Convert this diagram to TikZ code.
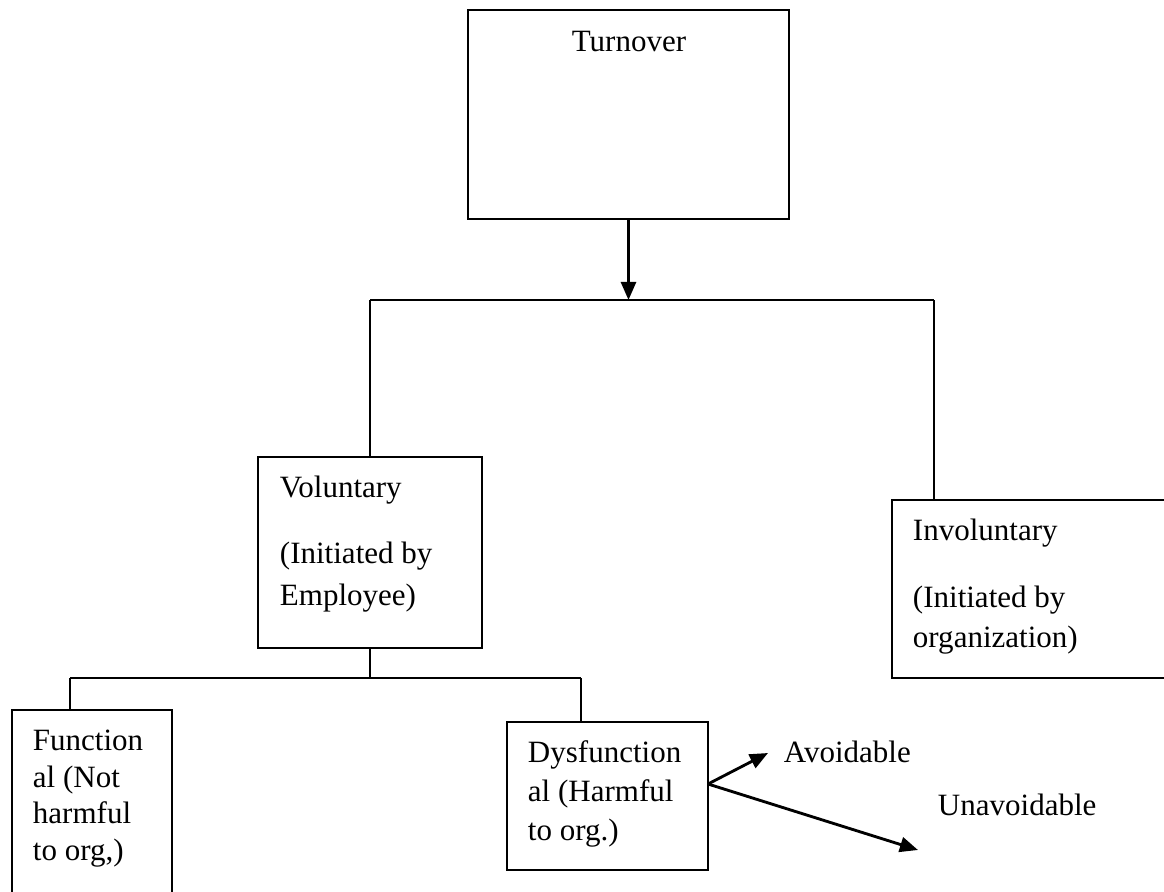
\documentclass[tikz,border=0pt]{standalone}
\usepackage{fontspec}
\setmainfont{Liberation Serif}
\usetikzlibrary{arrows.meta,fit}
\begin{document}
\begin{tikzpicture}[x=0.387pt,y=-0.387pt,
  line width=0.75pt,
  box/.style={draw,inner sep=0pt,line width=0.75pt},
  lbl/.style={anchor=base west,inner sep=0pt,font=\fontsize{12}{14}\selectfont},
  arr/.style={line width=1.1pt,-{Triangle[length=7pt,width=5.8pt]}}]
\useasboundingbox (0,0) rectangle (1164,892);
\fill[white] (0,0) rectangle (1164,892);
% boxes
\coordinate (t1) at (468,10);   \coordinate (t2) at (789,219);
\node[box,fit=(t1)(t2)] (turn) {};
\coordinate (v1) at (258,457);  \coordinate (v2) at (482,648);
\node[box,fit=(v1)(v2)] (vol) {};
\coordinate (i1) at (892,500);  \coordinate (i2) at (1200,678);
\node[box,fit=(i1)(i2)] (invol) {};
\coordinate (f1) at (12,710);   \coordinate (f2) at (172,930);
\node[box,fit=(f1)(f2)] (func) {};
\coordinate (d1) at (507,722);  \coordinate (d2) at (708,870);
\node[box,fit=(d1)(d2)] (dys) {};
% texts
\node[lbl,anchor=base] (tturn) at (629,51) {Turnover};
\node[lbl] (tv1) at (279,497) {Voluntary};
\node[lbl] (tv2) at (279,563) {(Initiated by};
\node[lbl] (tv3) at (279,605) {Employee)};
\node[lbl] (ti1) at (912,540) {Involuntary};
\node[lbl] (ti2) at (912,607) {(Initiated by};
\node[lbl] (ti3) at (912,647) {organization)};
\node[lbl] (tf1) at (32,750) {Function};
\node[lbl] (tf2) at (32,787) {al (Not};
\node[lbl] (tf3) at (32,823) {harmful};
\node[lbl] (tf4) at (32,860) {to org,)};
\node[lbl] (td1) at (527,762) {Dysfunction};
\node[lbl] (td2) at (527,801) {al (Harmful};
\node[lbl] (td3) at (527,840) {to org.)};
\node[lbl] (tav) at (783,762) {Avoidable};
\node[lbl] (tun) at (937,815) {Unavoidable};
% top connectors
\coordinate (hj) at (turn.south |- 0,300);
\coordinate (hl) at (vol.north |- hj);
\coordinate (hr) at (934,300);
\coordinate (ir) at (934,500);
\draw[arr] (turn.south) -- (hj);
\draw (hl) -- (hr);
\draw (hl) -- (vol.north);
\draw (hr) -- (ir);
% bottom connectors
\coordinate (bj) at (vol.south |- 0,678);
\coordinate (bl) at (70,678);
\coordinate (br) at (581,678);
\coordinate (fl) at (70,710);
\coordinate (dt) at (581,722);
\draw (vol.south) -- (bj);
\draw (bl) -- (br);
\draw (bl) -- (fl);
\draw (br) -- (dt);
% arrows from dysfunctional
\coordinate (fork) at (708,784);
\coordinate (ea) at (768,753);
\coordinate (eu) at (918,850);
\draw[arr] (fork) -- (ea);
\draw[arr] (fork) -- (eu);
\end{tikzpicture}
\end{document}
